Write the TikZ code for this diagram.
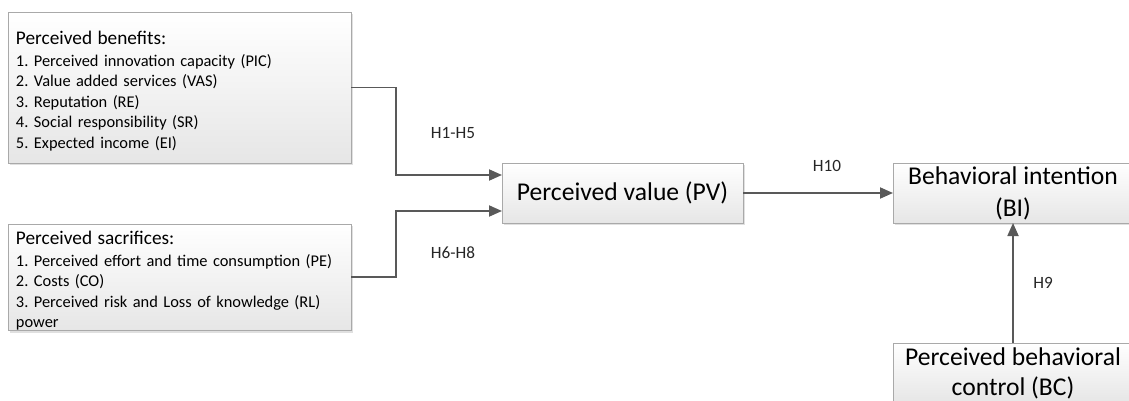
\documentclass[tikz,border=0pt]{standalone}
\usepackage{fontspec}
\setmainfont{Carlito}
\frenchspacing
\usetikzlibrary{arrows.meta,shadows,calc}
\definecolor{boxedge}{HTML}{A9A9A9}
\definecolor{boxbottom}{HTML}{E6E6E6}
\definecolor{linkgray}{HTML}{595959}
\newcommand{\boxtitle}[1]{\rule{0pt}{20.5pt}{\fontsize{19.3}{22}\selectfont #1}}
\begin{document}
\begin{tikzpicture}[x=1pt,y=-1pt,
  box/.style={draw=boxedge, line width=0.8pt, top color=white, bottom color=boxbottom,
    drop shadow={shadow xshift=2pt, shadow yshift=-2pt, fill=black, opacity=0.12},
    inner sep=0pt, outer sep=0pt},
  listbox/.style={box, align=left, text width=327pt, minimum width=343pt, anchor=north west,
    font=\fontsize{16.4}{20.6}\selectfont},
  bigbox/.style={box, align=center, minimum width=240pt, minimum height=60pt,
    font=\fontsize{25.6}{32}\selectfont},
  link/.style={draw=linkgray, line width=1.8pt, -{Triangle[length=13pt,width=11pt]}},
  hyp/.style={font=\fontsize{17.2}{20}\selectfont, text=black!85, inner sep=0pt}]
\clip (0,0) rectangle (1129,401);
\fill[white] (0,0) rectangle (1129,401);

% factor boxes on the left
\node[listbox, minimum height=151pt] (ben) at (8,12)
  {\boxtitle{Perceived benefits:}\\[1pt]
   1. Perceived innovation capacity (PIC)\\
   2. Value added services (VAS)\\
   3. Reputation (RE)\\
   4. Social responsibility (SR)\\
   5. Expected income (EI)};
\node[listbox, minimum height=104pt] (sac) at (8,224)
  {\boxtitle{Perceived sacrifices:}\\[1pt]
   1. Perceived effort and time consumption (PE)\\
   2. Costs (CO)\\
   3. Perceived risk and Loss of knowledge (RL)\\
   power};

% construct boxes
\node[bigbox, minimum width=241pt] (pv) at (622.5,193) {Perceived value (PV)};
\node[bigbox] (bi) at (1013,193) {Behavioral intention\\(BI)};
\node[bigbox, font=\fontsize{25.6}{30}\selectfont] (bc) at (1013,373) {Perceived behavioral\\control (BC)};

% connectors
\coordinate (jx) at (396,0);
\coordinate (pvin1) at ($(pv.west)+(0,-18)$);
\coordinate (pvin2) at ($(pv.west)+(0,18)$);
\draw[link] (ben.east) -- (ben.east -| jx) |- (pvin1);
\draw[link] (sac.east) -- (sac.east -| jx) |- (pvin2);
\draw[link] (pv.east) -- (bi.west);
\draw[link] (bc.north) -- (bi.south);

% hypothesis labels
\node[hyp] (h15) at (453,133) {H1-H5};
\node[hyp] (h68) at (453,253) {H6-H8};
\node[hyp] (h10) at (827,166) {H10};
\node[hyp] (h9) at (1043,283) {H9};
\end{tikzpicture}
\end{document}
